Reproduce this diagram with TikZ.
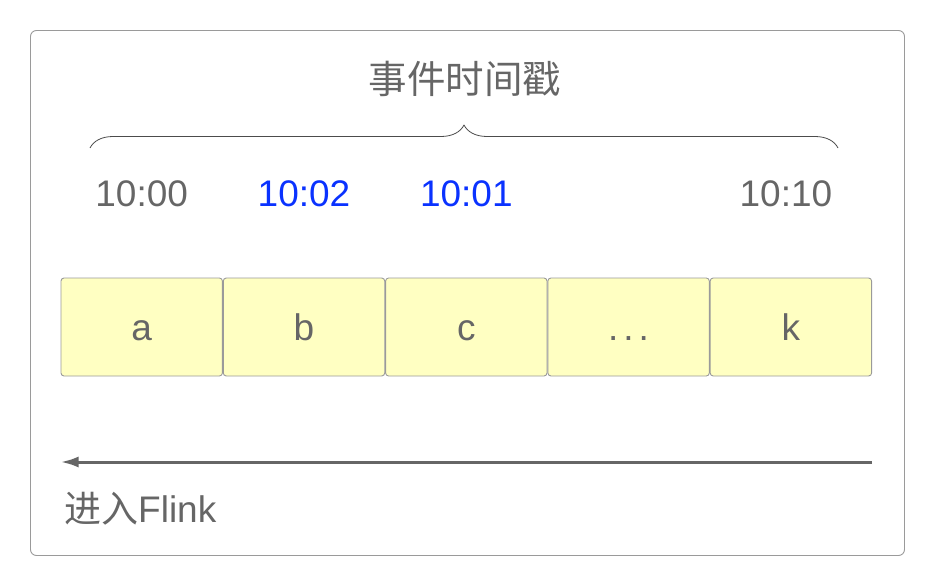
\documentclass[tikz,border=0pt]{standalone}
\usepackage{fontspec}
\setmainfont{Liberation Sans}
\newfontfamily\cjk{Noto Sans CJK SC}
\usetikzlibrary{positioning,arrows.meta,decorations.pathreplacing}
\definecolor{txtgray}{HTML}{666666}
\definecolor{evblue}{HTML}{0A32FF}
\definecolor{cellfill}{HTML}{FFFFC2}
\definecolor{cellline}{HTML}{9A9A9A}

\begin{document}
\begin{tikzpicture}[x=1pt,y=-1pt,line join=round,>={Latex[length=18pt,width=11pt]}]
	\tikzset{cell/.style={draw=cellline,fill=cellfill,rounded corners=3pt,line width=0.9pt,
			minimum width=161.4pt,minimum height=98pt,inner sep=0pt,text height=27pt,text depth=0pt,
			font=\fontsize{37}{44}\selectfont,text=txtgray},
		stamp/.style={inner sep=0pt,font=\fontsize{37}{44}\selectfont,text=txtgray}}
	\useasboundingbox (0,0) rectangle (935,586);
	\draw[cellline,line width=0.9pt,rounded corners=6pt] (30.5,30.5) rectangle (904.5,555.5);
	% cells
	\node[cell] (a) at (141.7,327) {a};
	\node[cell,right=0pt of a] (b) {b};
	\node[cell,right=0pt of b] (c) {c};
	\node[cell,right=0pt of c] (dots) {.\kern5pt.\kern5pt.};
	\node[cell,right=0pt of dots] (k) {k};
	% timestamps
	\node[stamp,above=70pt of a] (ta) {10:00};
	\node[stamp,above=70pt of b,text=evblue] (tb) {10:02};
	\node[stamp,above=70pt of c,text=evblue] (tc) {10:01};
	\node[stamp,above=70pt of k,xshift=-5pt] (tk) {10:10};
	% brace
	\coordinate (bl) at (90,148);
	\coordinate (br) at (838,148);
	\draw[black!70,line width=0.8pt,decorate,decoration={brace,amplitude=23pt}] (bl) -- (br);
	\node[stamp,font=\fontsize{38.5}{44}\selectfont] (title) at (465,79) {\cjk 事件时间戳};
	% flow
	\coordinate (flowR) at (k.south east |- 0,462);
	\coordinate (flowL) at (a.south west |- 0,462);
	\draw[->,txtgray,line width=3pt] (flowR) -- (flowL);
	\node[stamp,anchor=base west] (entry) at (64,522) {{\cjk 进入}Flink};
\end{tikzpicture}
\end{document}
